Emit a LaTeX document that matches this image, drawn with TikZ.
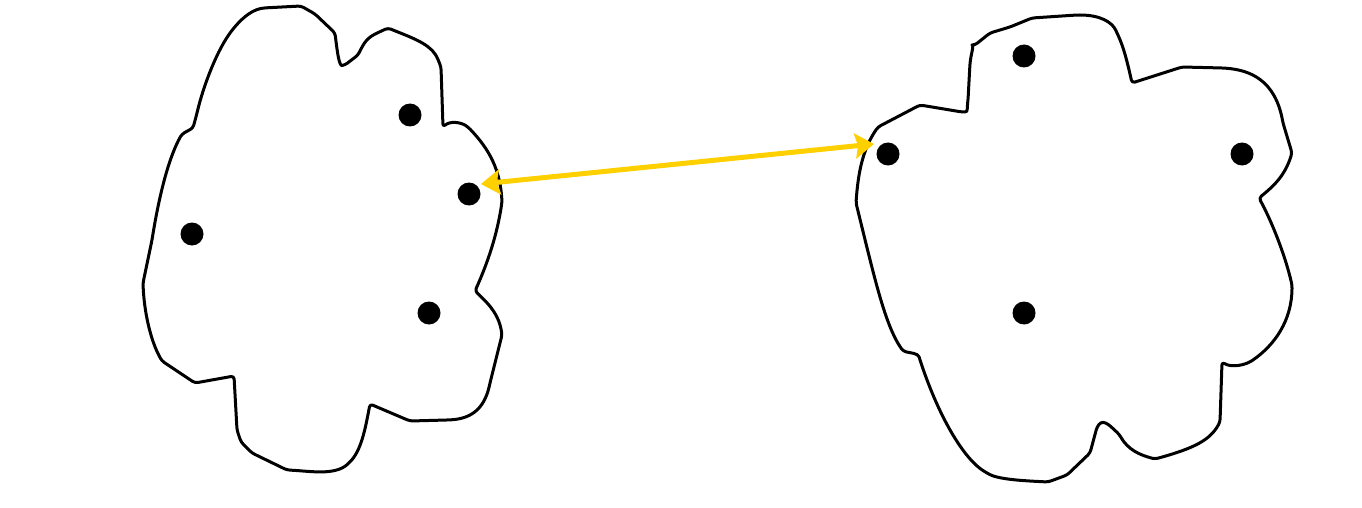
\documentclass[tikz,border=0pt]{standalone}
\usetikzlibrary{arrows.meta}
\definecolor{arrowgold}{RGB}{255,208,0}
\begin{document}
\begin{tikzpicture}[x=1pt,y=-1pt,
  blob/.style={draw=black,line width=3pt,line join=round,rounded corners=3pt},
  dot/.style={circle,fill=black,inner sep=0pt,minimum size=23pt},
  link/.style={draw=arrowgold,line width=5pt,{Stealth[length=19pt,width=25pt,inset=3pt]}-{Stealth[length=19pt,width=25pt,inset=3pt]}}]
\useasboundingbox (0,0) rectangle (1362,508);
% left blob
\draw[blob] (301,6) -- (263,8) .. controls (250,11) and (240,20) .. (230,33)
  .. controls (215,55) and (203,88) .. (197,113) -- (193,128) -- (182,134)
  .. controls (170,155) and (160,190) .. (152,240) -- (143,283)
  .. controls (144,310) and (150,340) .. (162,361) -- (195,383) -- (234,376)
  -- (237,430) -- (241,442) -- (252,453) -- (287,470)
  .. controls (310,471) and (335,476) .. (350,462)
  .. controls (362,448) and (366,425) .. (370,404) -- (410,421) -- (447,420)
  .. controls (470,419) and (484,410) .. (490,383)
  -- (502,335) .. controls (499,315) and (490,305) .. (475,291)
  .. controls (488,262) and (497,235) .. (502,202)
  .. controls (500,170) and (490,150) .. (468,127)
  .. controls (460,122) and (450,121) .. (443,127)
  -- (441,67) -- (437,57) .. controls (428,43) and (410,37) .. (388,28)
  -- (375,34) .. controls (365,40) and (362,47) .. (358,55)
  -- (345,65) .. controls (339,66) and (337,50) .. (335,33)
  -- (315,14) -- cycle;
% right blob
\draw[blob] (1032,18) -- (1077,15) .. controls (1100,15) and (1112,22) .. (1117,33)
  .. controls (1124,48) and (1128,65) .. (1132,83) -- (1182,67) -- (1223,68)
  .. controls (1250,70) and (1275,80) .. (1283,123)
  -- (1292,153) .. controls (1285,175) and (1275,185) .. (1259,198)
  .. controls (1272,222) and (1285,255) .. (1292,285)
  .. controls (1292,320) and (1275,345) .. (1250,362)
  .. controls (1240,366) and (1230,367) .. (1222,362)
  -- (1220,422) .. controls (1210,440) and (1195,448) .. (1155,459)
  .. controls (1140,455) and (1128,450) .. (1119,434)
  .. controls (1112,428) and (1104,418) .. (1097,427)
  -- (1090,453) -- (1067,475) -- (1048,482)
  .. controls (1030,481) and (1000,480) .. (987,473)
  .. controls (965,460) and (940,420) .. (920,360)
  .. controls (918,353) and (910,353) .. (903,351)
  .. controls (885,325) and (875,280) .. (856,203)
  .. controls (858,175) and (862,150) .. (878,127)
  -- (920,105) -- (962,112) .. controls (968,112) and (967,108) .. (968,100)
  -- (970,63) .. controls (972,50) and (974,45) .. (975,45)
  -- (990,33) -- (1010,27) -- cycle;
% dots
\node[dot] (l1) at (410,115) {};
\node[dot] (l2) at (469,194) {};
\node[dot] (l3) at (192,234) {};
\node[dot] (l4) at (429,313) {};
\node[dot] (r1) at (1024,56) {};
\node[dot] (r2) at (888,154) {};
\node[dot] (r3) at (1242,154) {};
\node[dot] (r4) at (1024,313) {};
% arrow
\coordinate (aL) at (481,184);
\coordinate (aR) at (874,144);
\draw[link] (aL) -- (aR);
\end{tikzpicture}
\end{document}
